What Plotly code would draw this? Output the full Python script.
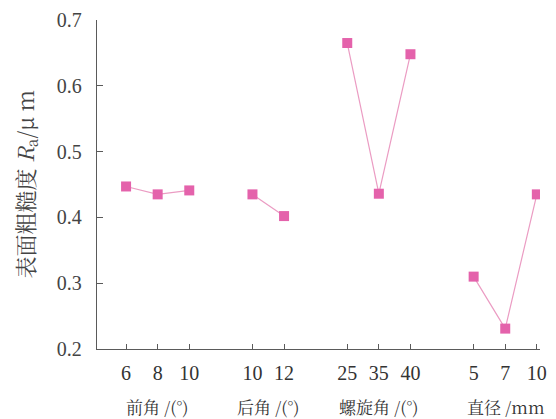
import plotly.graph_objects as go

# ---- data ----
group_names = ["前角 /(°)", "后角 /(°)", "螺旋角 /(°)", "直径 /mm"]
group_levels = [["6", "8", "10"], ["10", "12"], ["25", "35", "40"], ["5", "7", "10"]]
group_values = [[0.447, 0.435, 0.441], [0.435, 0.402], [0.665, 0.436, 0.648], [0.310, 0.231, 0.435]]

# ---- derived positions (one empty slot between groups) ----
xs, ys, tickvals, ticktext, centers = [], [], [], [], []
pos = 0
for levels, vals in zip(group_levels, group_values):
    start = pos
    for lab, v in zip(levels, vals):
        xs.append(pos); ys.append(v)
        tickvals.append(pos); ticktext.append(lab)
        pos += 1
    centers.append((start + pos - 1) / 2)
    xs.append(None); ys.append(None)
    pos += 1

serif = "Liberation Serif, Times New Roman, serif"
cjk = "Noto Serif CJK SC, Noto Sans CJK SC, serif"

fig = go.Figure()
fig.add_trace(go.Scatter(
    x=xs, y=ys, mode="lines", connectgaps=False,
    line=dict(color="#eb9cc3", width=1.2), hoverinfo="skip", showlegend=False))
fig.add_trace(go.Scatter(
    x=[x for x in xs if x is not None], y=[y for y in ys if y is not None],
    mode="markers", marker=dict(symbol="square", size=10, color="#e462ab"),
    showlegend=False))

axis_col = "#5a5a5a"
fig.update_xaxes(range=[-0.92, 13.1], tickvals=tickvals, ticktext=ticktext,
                 ticks="inside", ticklen=5, tickcolor=axis_col, showline=True,
                 linecolor=axis_col, linewidth=1.3, showgrid=False, zeroline=False,
                 automargin=False, ticklabelstandoff=6,
                 tickfont=dict(family=serif, size=20, color="#333"))
fig.update_yaxes(range=[0.2, 0.7], tickvals=[0.2, 0.3, 0.4, 0.5, 0.6, 0.7],
                 ticktext=["0.2", "0.3", "0.4", "0.5", "0.6", "0.7"],
                 ticks="inside", ticklen=6, tickcolor=axis_col, showline=True,
                 linecolor=axis_col, linewidth=1.3, showgrid=False, zeroline=False,
                 automargin=False, ticklabelstandoff=10,
                 tickfont=dict(family=serif, size=20, color="#444"))

for name, c in zip(group_names, centers):
    fig.add_annotation(x=c, y=0, xref="x", yref="paper", yshift=-57,
                       text=name, showarrow=False, xanchor="center", yanchor="middle",
                       font=dict(family=cjk, size=17, color="#333"))

fig.add_annotation(x=-0.1625, y=0.5, xref="paper", yref="paper", textangle=-90,
                   text="表面粗糙度 <i>R</i><sub>a</sub>/μ m", showarrow=False,
                   xanchor="center", yanchor="middle",
                   font=dict(family=cjk, size=22, color="#444"))

fig.update_layout(width=556, height=419,
                  margin=dict(l=97, r=16, t=20, b=70, autoexpand=False),
                  plot_bgcolor="white", paper_bgcolor="white")

# remove the page's default 8px body margin so the figure fills the window
fig.write_html("out.html", config={"displayModeBar": False},
               post_script="document.body.style.margin='0';")
